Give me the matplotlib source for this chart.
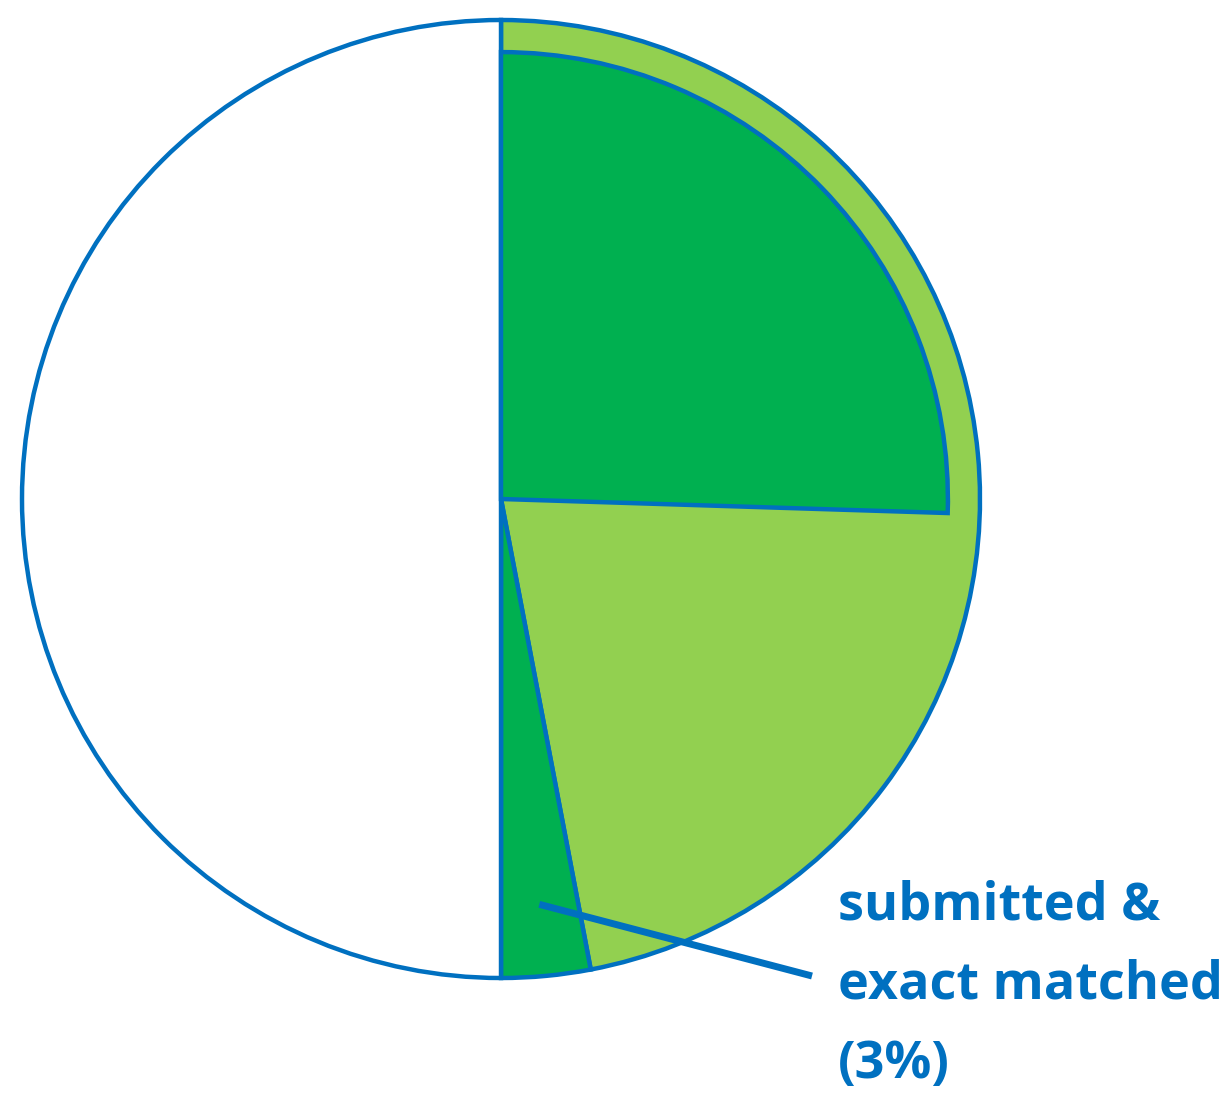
import numpy as np
import matplotlib
matplotlib.use("Agg")
import matplotlib.pyplot as plt

# slice shares (%), clockwise from 12 o'clock
labels = ["submitted & matched", "submitted, not matched", "submitted & exact matched", "not submitted"]
shares = [25.5, 21.5, 3.0, 50.0]
colors = ["#00B050", "#92D050", "#00B050", "#FFFFFF"]
callout = "submitted &\nexact matched\n(3%)"

blue = "#0070C0"
W, H = 1230, 1095
cx, cy, R = 501, 499, 479  # pie centre / radius in pixels

fig = plt.figure(figsize=(W / 100, H / 100), dpi=100)
ax = fig.add_axes([0, 0, 1, 1])

wprops = dict(edgecolor=blue, linewidth=3.2, joinstyle="miter")

# full radius layer: light green covers the first two slices
outer = [shares[0] + shares[1], shares[2], shares[3]]
ax.pie(outer, colors=[colors[1], colors[2], colors[3]], startangle=90,
       counterclock=False, radius=1.0, wedgeprops=wprops, frame=True)

# inner dark green slice sits inside, leaving a light green rim
ax.pie([shares[0], 100 - shares[0]], colors=[colors[0], "none"], startangle=90,
       counterclock=False, radius=0.933, wedgeprops=wprops, frame=True)
# hide the edge of the invisible filler wedge
ax.patches[-1].set_edgecolor("none")

ax.set_xlim(-cx / R, (W - cx) / R)
ax.set_ylim(-(H - cy) / R, cy / R)
ax.set_aspect("equal")
ax.axis("off")

# leader line for the 3% slice
mid = np.deg2rad(90 - (sum(shares[:2]) + shares[2] / 2) * 3.6)
x0, y0 = 0.85 * np.cos(mid), 0.85 * np.sin(mid)
ax.plot([x0, (812 - cx) / R], [y0, -(976 - cy) / R], color=blue, lw=5,
        solid_capstyle="butt", zorder=5)

ax.text((838 - cx) / R, -(879 - cy) / R, callout, color=blue, fontsize=37.5,
        fontweight="bold", family="Open Sans", va="top", ha="left",
        linespacing=1.66)

fig.savefig("out.png", dpi=100)
